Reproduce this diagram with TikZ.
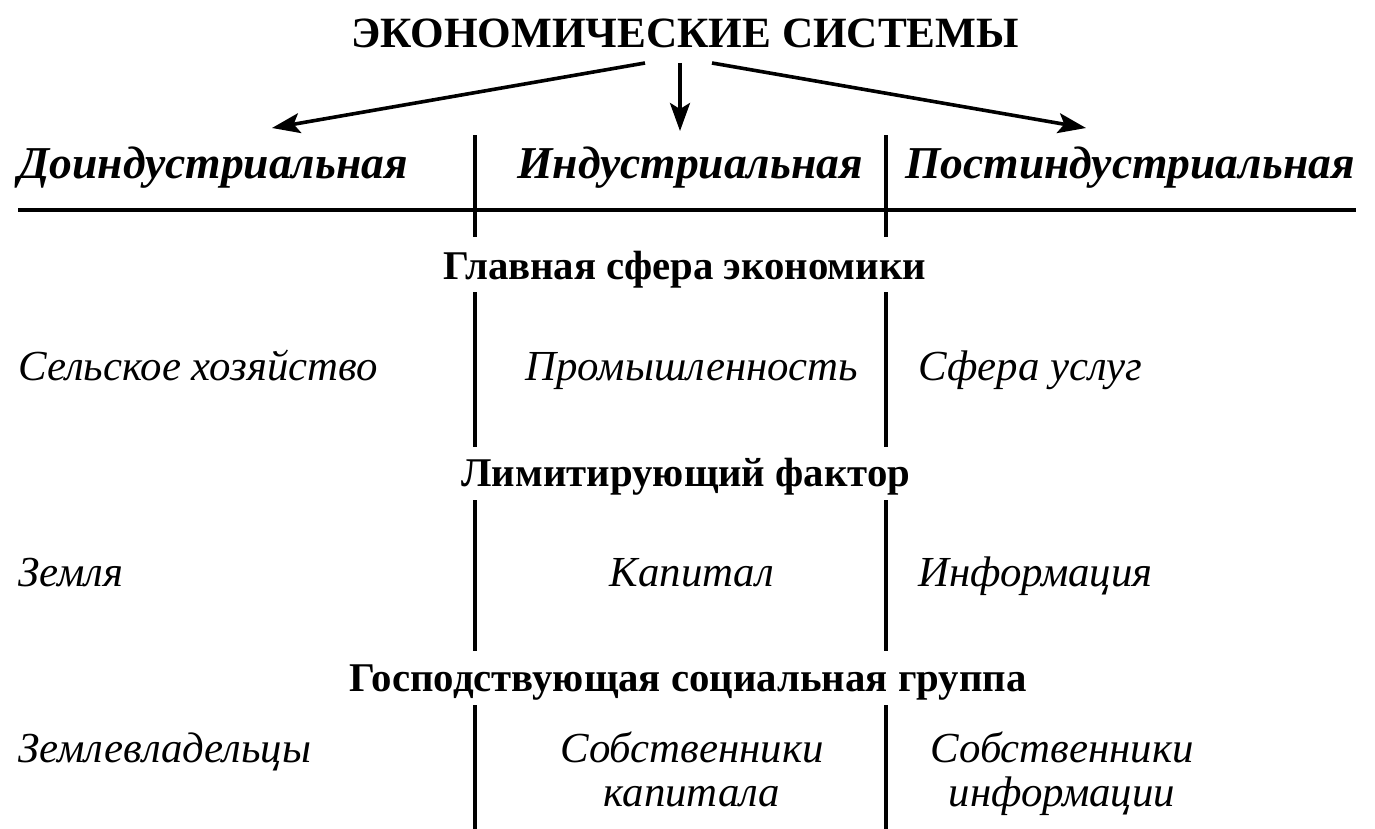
\documentclass[tikz,border=0pt]{standalone}
\usepackage{fontspec}
\setmainfont{Liberation Serif}
\usetikzlibrary{arrows.meta,positioning}
\tikzset{
	>={Stealth[length=14pt,width=10pt,inset=3pt]},
	titlebox/.style={
		font=\fontsize{21.6}{26}\selectfont\bfseries,
		inner sep=0pt},
	headbox/.style={
		font=\fontsize{22.8}{26}\selectfont\bfseries\itshape,
		inner sep=0pt},
	sectbox/.style={
		font=\fontsize{20.4}{22}\selectfont\bfseries,
		inner sep=0pt},
	cellbox/.style={
		font=\fontsize{21.4}{22}\selectfont\itshape,
		inner sep=0pt, align=center},
	rule/.style={draw, line width=2.4pt},
	divider/.style={draw, line width=1.8pt},
	branch/.style={draw, ->, line width=1.8pt},
}

\begin{document}
\begin{tikzpicture}[x=0.5pt,y=-0.5pt]
\useasboundingbox (0,0) rectangle (1375,829);

% title and the three systems
\node[titlebox, anchor=base] (title) at (685,48) {ЭКОНОМИЧЕСКИЕ СИСТЕМЫ};
\node[headbox, anchor=base west] (pre) at (18,178) {Доиндустриальная};
\node[headbox, anchor=base] (ind) at (690,178) {Индустриальная};
\node[headbox, anchor=base east] (post) at (1355,178) {Постиндустриальная};

\coordinate (tl) at (645,63);
\coordinate (tm) at (680,63);
\coordinate (tr) at (712,63);
\coordinate (hl) at (272,128);
\coordinate (hm) at (680,131);
\coordinate (hr) at (1086,128);
\draw[branch] (tl) -- (hl);
\draw[branch] (tm) -- (hm);
\draw[branch] (tr) -- (hr);

% rule under the headings
\coordinate (ruleL) at (18,210);
\coordinate (ruleR) at (1356,210);
\draw[rule] (ruleL) -- (ruleR);

% section headings
\node[sectbox, anchor=base] (sphere) at (685,279) {Главная сфера экономики};
\node[sectbox, anchor=base] (limit) at (686,486) {Лимитирующий фактор};
\node[sectbox, anchor=base] (group) at (688,691) {Господствующая социальная группа};

% cells
\node[cellbox, anchor=base west] (agri) at (18,380) {Сельское хозяйство};
\node[cellbox, anchor=base] (indus) at (692,380) {Промышленность};
\node[cellbox, anchor=base west] (serv) at (918,380) {Сфера услуг};

\node[cellbox, anchor=base west] (land) at (18,586) {Земля};
\node[cellbox, anchor=base] (cap) at (692,586) {Капитал};
\node[cellbox, anchor=base west] (info) at (918,586) {Информация};

\node[cellbox, anchor=base west] (owners) at (18,762) {Землевладельцы};
\node[cellbox, anchor=base] (capown) at (692,806) {Собственники\\капитала};
\node[cellbox, anchor=base] (infown) at (1062,806) {Собственники\\информации};

% column dividers
\foreach \col/\x in {a/475,b/886}{
	\coordinate (\col1) at (\x,135); \coordinate (\col2) at (\x,237);
	\coordinate (\col3) at (\x,292); \coordinate (\col4) at (\x,447);
	\coordinate (\col5) at (\x,500); \coordinate (\col6) at (\x,651);
	\coordinate (\col7) at (\x,705); \coordinate (\col8) at (\x,829);
	\draw[divider] (\col1) -- (\col2);
	\draw[divider] (\col3) -- (\col4);
	\draw[divider] (\col5) -- (\col6);
	\draw[divider] (\col7) -- (\col8);
}
\end{tikzpicture}
\end{document}
